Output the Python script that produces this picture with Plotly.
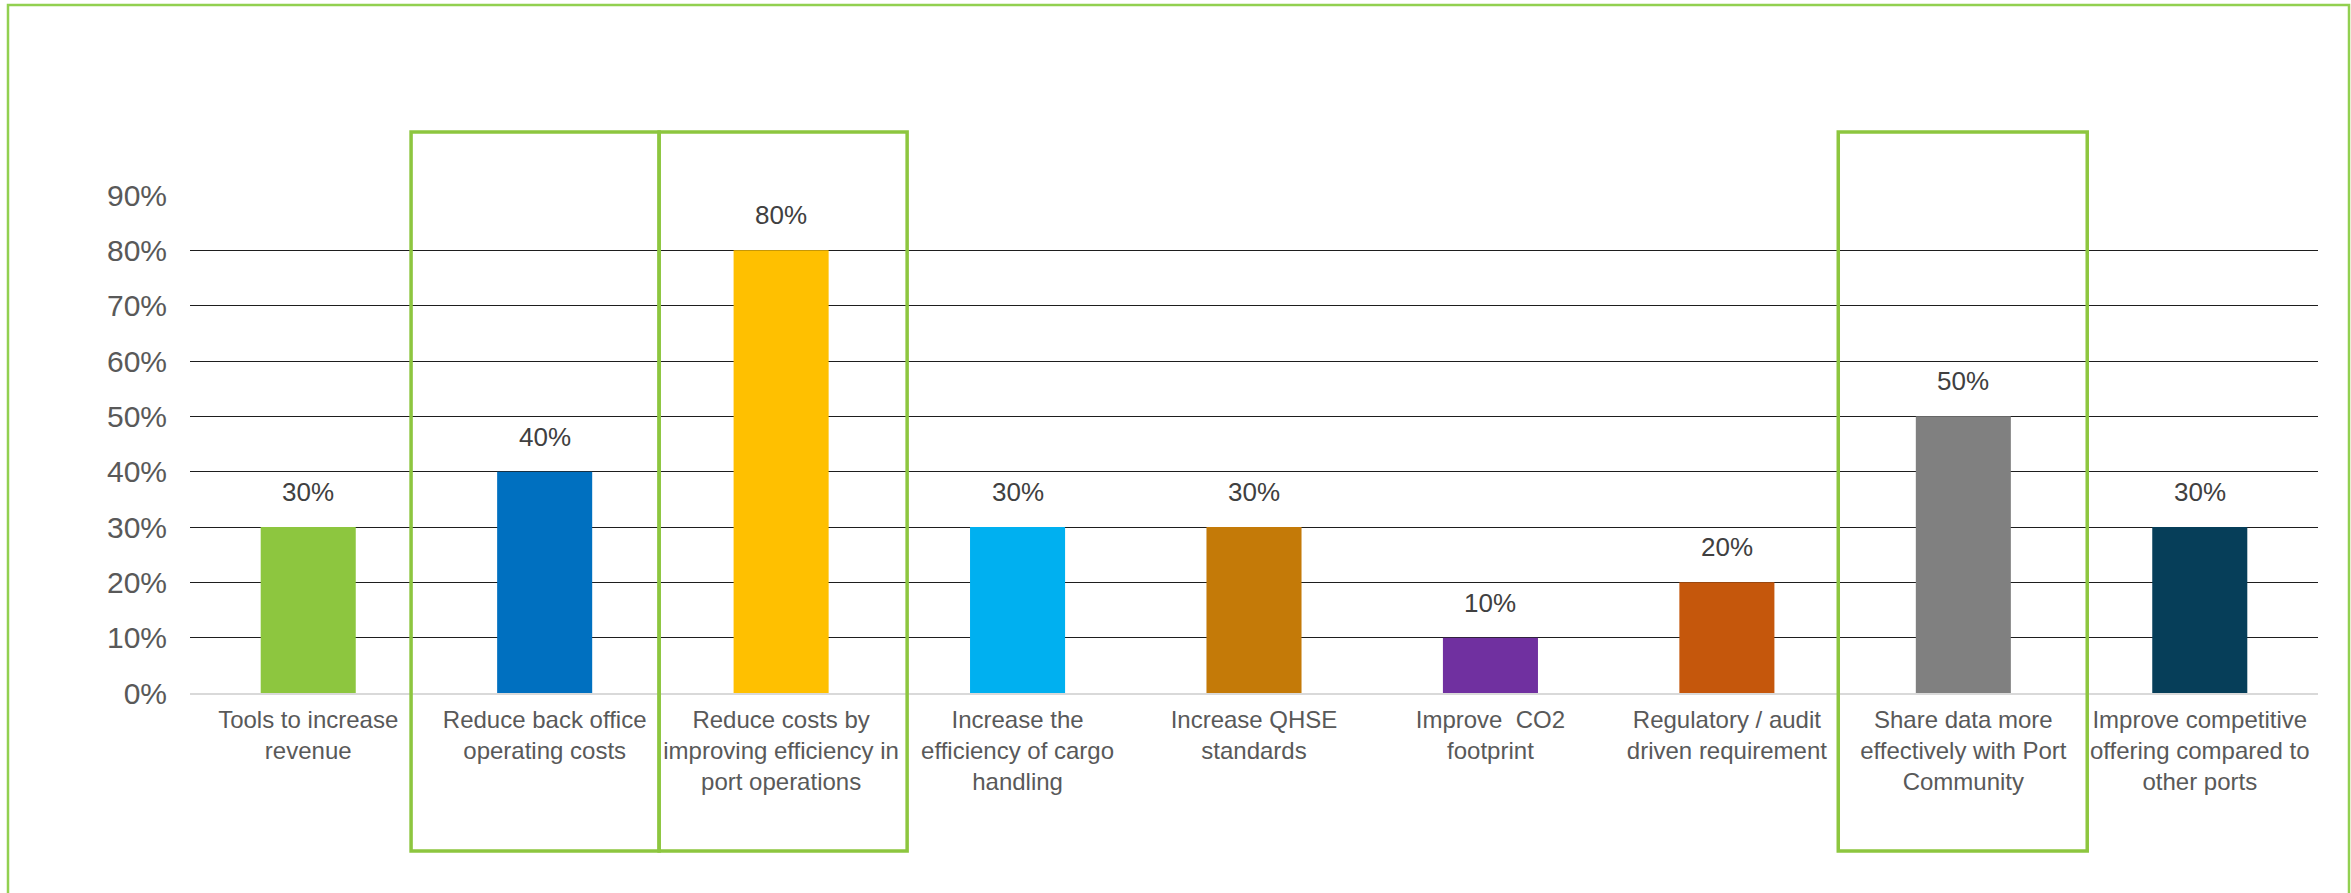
import plotly.graph_objects as go

categories = [
    "Tools to increase<br>revenue",
    "Reduce back office<br>operating costs",
    "Reduce costs by<br>improving efficiency in<br>port operations",
    "Increase the<br>efficiency of cargo<br>handling",
    "Increase QHSE<br>standards",
    "Improve  CO2<br>footprint",
    "Regulatory / audit<br>driven requirement",
    "Share data more<br>effectively with Port<br>Community",
    "Improve competitive<br>offering compared to<br>other ports",
]
values = [0.30, 0.40, 0.80, 0.30, 0.30, 0.10, 0.20, 0.50, 0.30]
labels = ["30%", "40%", "80%", "30%", "30%", "10%", "20%", "50%", "30%"]
bar_colors = ["#8DC63F", "#0070C0", "#FFC000", "#00B0F0", "#C47A08",
              "#7030A0", "#C5570C", "#808080", "#063E59"]
y_tickvals = [0, 0.1, 0.2, 0.3, 0.4, 0.5, 0.6, 0.7, 0.8, 0.9]
y_ticktext = ["0%", "10%", "20%", "30%", "40%", "50%", "60%", "70%", "80%", "90%"]

# highlight boxes (category-unit spans)
highlight_spans = [(0.435, 1.484), (1.484, 2.533), (6.471, 7.524)]

W, H = 2351, 893
ML, MR, MT, MB = 190, 33, 195, 200
PW, PH = W - ML - MR, H - MT - MB
N = len(categories)

def px_x(p):
    return (p - ML) / PW

def px_y(p):
    return (H - MB - p) / PH

def cat_x(c):
    return (c + 0.5) / N

x_idx = list(range(N))

fig = go.Figure()
fig.add_trace(go.Bar(
    x=x_idx, y=values,
    marker=dict(color=bar_colors, line=dict(width=0)),
    hoverinfo="skip",
))

for i, (v, t) in enumerate(zip(values, labels)):
    fig.add_annotation(x=i, y=v, text=t, showarrow=False, yanchor="bottom",
                       yshift=18, font=dict(size=26, color="#404040",
                                            family="Liberation Sans, Arial"))

shapes = []
# outer border
shapes.append(dict(type="rect", xref="paper", yref="paper",
                   x0=px_x(8), x1=px_x(2349), y0=px_y(960), y1=px_y(5),
                   line=dict(color="#92D050", width=2.5), fillcolor="rgba(0,0,0,0)"))
for a, b in highlight_spans:
    shapes.append(dict(type="rect", xref="paper", yref="paper",
                       x0=cat_x(a), x1=cat_x(b), y0=px_y(851), y1=px_y(132),
                       line=dict(color="#8DC63F", width=3.5),
                       fillcolor="rgba(0,0,0,0)", layer="above"))

fig.update_layout(
    width=W, height=H,
    margin=dict(l=ML, r=MR, t=MT, b=MB),
    paper_bgcolor="white", plot_bgcolor="white",
    bargap=0.598,
    showlegend=False,
    shapes=shapes,
    font=dict(family="Liberation Sans, Arial", color="#595959"),
    xaxis=dict(
        tickmode="array", tickvals=x_idx, ticktext=categories,
        range=[-0.5, N - 0.5],
        tickfont=dict(size=24, color="#595959"),
        showgrid=False, showline=True, linecolor="#D9D9D9", linewidth=2,
        ticks="", ticklabelstandoff=4, tickangle=0,
    ),
    yaxis=dict(
        range=[0, 0.9], tickmode="array", tickvals=y_tickvals, ticktext=y_ticktext,
        tickfont=dict(size=30, color="#595959"),
        showgrid=True, gridcolor="#1E1E1E", gridwidth=1.4,
        zeroline=False, ticks="", ticklabelstandoff=22,
    ),
)

fig.write_html(
    "out.html",
    config={"displayModeBar": False},
    post_script="document.body.style.margin='0';document.body.style.overflow='hidden';",
)
